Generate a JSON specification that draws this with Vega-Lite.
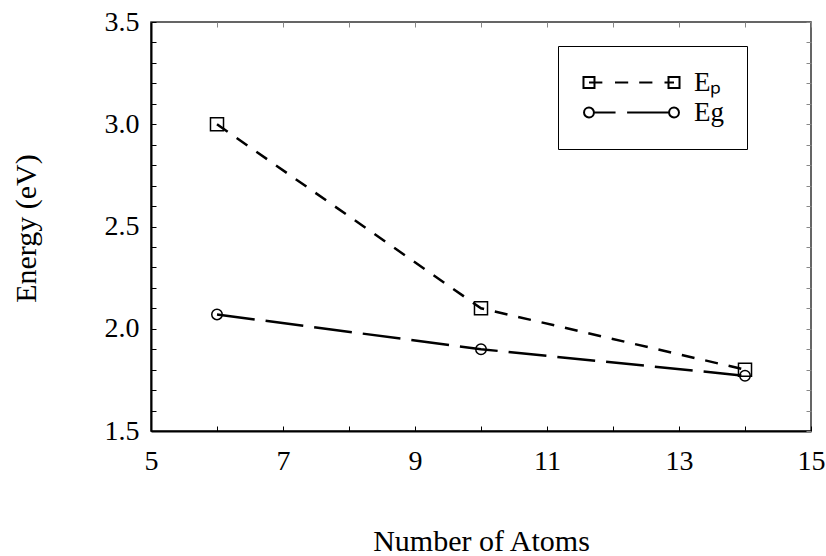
{
  "$schema": "https://vega.github.io/schema/vega-lite/v6.json",
  "width": 660,
  "height": 409,
  "autosize": {"type": "none"},
  "padding": {"left": 151, "top": 22, "right": 15, "bottom": 125},
  "background": "white",
  "config": {
    "font": "Liberation Serif",
    "view": {"stroke": "#333", "strokeWidth": 1.5},
    "axis": {"grid": false, "labelColor": "black", "titleColor": "black", "titleFontWeight": "normal", "labelOverlap": false, "labelBound": false, "labelFlush": false}
  },
  "data": {
    "values": [
      {"atoms": 6, "energy": 3.0, "series": "Ep"},
      {"atoms": 10, "energy": 2.1, "series": "Ep"},
      {"atoms": 14, "energy": 1.8, "series": "Ep"},
      {"atoms": 6, "energy": 2.07, "series": "Eg"},
      {"atoms": 10, "energy": 1.9, "series": "Eg"},
      {"atoms": 14, "energy": 1.77, "series": "Eg"}
    ]
  },
  "layer": [
    {
      "mark": {"type": "line", "strokeWidth": 2.5, "color": "black"},
      "encoding": {
        "x": {
          "field": "atoms", "type": "quantitative",
          "scale": {"domain": [5, 15], "nice": false, "zero": false},
          "axis": {
            "orient": "bottom",
            "values": [5, 6, 7, 8, 9, 10, 11, 12, 13, 14, 15],
            "labelExpr": "datum.value % 2 === 1 ? datum.label : ''",
            "tickSize": -5, "tickColor": "black", "tickWidth": 1,
            "labelPadding": 21, "labelFontSize": 28,
            "domainColor": "black", "domainWidth": 2,
            "title": "Number of Atoms", "titleFontSize": 30,
            "titleX": 330, "titleY": 119, "titleBaseline": "alphabetic", "titleAlign": "center"
          }
        },
        "y": {
          "field": "energy", "type": "quantitative",
          "scale": {"domain": [1.5, 3.5], "nice": false, "zero": false},
          "axis": {
            "orient": "left",
            "values": [1.5, 1.6, 1.7, 1.8, 1.9, 2.0, 2.1, 2.2, 2.3, 2.4, 2.5, 2.6, 2.7, 2.8, 2.9, 3.0, 3.1, 3.2, 3.3, 3.4, 3.5],
            "labelExpr": "round(datum.value * 10) % 5 === 0 ? format(datum.value, '.1f') : ''",
            "tickSize": -5, "tickColor": "black", "tickWidth": 1,
            "labelPadding": 17, "labelFontSize": 28,
            "domainColor": "black", "domainWidth": 2,
            "title": "Energy (eV)", "titleFontSize": 30,
            "titleX": -116, "titleY": 206, "titleAngle": -90, "titleBaseline": "alphabetic", "titleAlign": "center"
          }
        },
        "detail": {"field": "series", "type": "nominal"},
        "strokeDash": {
          "condition": {"test": "datum.series === 'Ep'", "value": [13, 11]},
          "value": [38, 11]
        }
      }
    },
    {
      "mark": {"type": "point", "filled": false, "strokeWidth": 1.5, "color": "black", "opacity": 1},
      "encoding": {
        "x": {
          "field": "atoms", "type": "quantitative",
          "scale": {"domain": [5, 15], "nice": false, "zero": false},
          "axis": {
            "orient": "top",
            "values": [5, 6, 7, 8, 9, 10, 11, 12, 13, 14, 15],
            "labels": false, "domain": false,
            "tickSize": -5, "tickColor": "#888", "tickWidth": 1,
            "title": null
          }
        },
        "y": {
          "field": "energy", "type": "quantitative",
          "scale": {"domain": [1.5, 3.5], "nice": false, "zero": false},
          "axis": {
            "orient": "right",
            "values": [1.5, 1.6, 1.7, 1.8, 1.9, 2.0, 2.1, 2.2, 2.3, 2.4, 2.5, 2.6, 2.7, 2.8, 2.9, 3.0, 3.1, 3.2, 3.3, 3.4, 3.5],
            "labels": false, "domain": false,
            "tickSize": -5, "tickColor": "#888", "tickWidth": 1,
            "title": null
          }
        },
        "shape": {
          "condition": {"test": "datum.series === 'Ep'", "value": "square"},
          "value": "circle"
        },
        "size": {
          "condition": {"test": "datum.series === 'Ep'", "value": 170},
          "value": 110
        }
      }
    },
    {
      "transform": [{"filter": "false"}],
      "mark": {"type": "point", "filled": false, "strokeWidth": 2, "color": "black", "opacity": 1, "size": 121},
      "encoding": {
        "x": {"field": "atoms", "type": "quantitative", "axis": null},
        "y": {"field": "energy", "type": "quantitative", "axis": null},
        "shape": {
          "field": "series", "type": "nominal",
          "scale": {
            "domain": ["Ep", "Eg"],
            "range": [
              "M-8.73,-1H-6.73V1H-8.73ZM6.73,-1H8.73V1H6.73ZM-7.73,0H-5.3M-3,0H-0.6M1.4,0H3.8M6,0H7.73",
              "M-6.83,0A0.9,0.9,0,1,0,-8.63,0A0.9,0.9,0,1,0,-6.83,0ZM-6.83,0H-2.9M-0.8,0H6.83M8.63,0A0.9,0.9,0,1,0,6.83,0A0.9,0.9,0,1,0,8.63,0Z"
            ]
          },
          "legend": {
            "title": null,
            "orient": "none",
            "legendX": 407,
            "legendY": 24,
            "padding": 23,
            "strokeColor": "black",
            "fillColor": "white",
            "symbolOffset": 37,
            "labelOffset": 49,
            "labelFont": "Liberation Serif",
            "labelFontSize": 27,
            "labelColor": "black",
            "rowPadding": 2,
            "symbolSize": 121,
            "symbolStrokeColor": "black",
            "symbolStrokeWidth": 2,
            "symbolFillColor": "transparent",
            "labelExpr": "datum.value === 'Ep' ? 'Eₚ' : 'Eg'"
          }
        }
      }
    }
  ],
  "resolve": {"axis": {"x": "independent", "y": "independent"}}
}
